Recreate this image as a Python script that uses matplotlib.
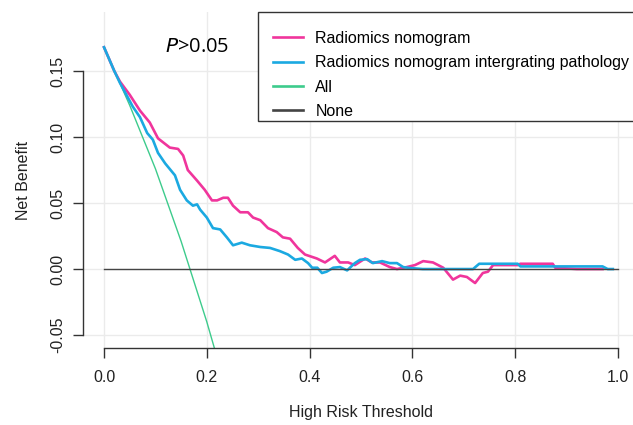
import matplotlib
import numpy as np

matplotlib.use("Agg")
import matplotlib.pyplot as plt
from matplotlib.patches import Rectangle

# values
thr_rad = [0.0, 0.02, 0.031, 0.05, 0.07, 0.089, 0.105, 0.128, 0.144, 0.154, 0.163, 0.181,
           0.196, 0.210, 0.220, 0.232, 0.241, 0.251, 0.265, 0.280, 0.290, 0.304, 0.319,
           0.336, 0.348, 0.362, 0.377, 0.391, 0.414, 0.430, 0.449, 0.459, 0.475, 0.488,
           0.508, 0.521, 0.537, 0.556, 0.570, 0.589, 0.605, 0.621, 0.640, 0.660, 0.679,
           0.693, 0.706, 0.722, 0.737, 0.747, 0.757, 0.805, 0.81, 0.873, 0.878, 0.92, 0.97]
nb_rad = [0.168, 0.150, 0.142, 0.132, 0.120, 0.111, 0.099, 0.092, 0.091, 0.086, 0.075, 0.067,
          0.060, 0.052, 0.052, 0.054, 0.054, 0.048, 0.043, 0.043, 0.039, 0.037, 0.031,
          0.028, 0.024, 0.023, 0.016, 0.011, 0.008, 0.005, 0.010, 0.005, 0.005, 0.003,
          0.008, 0.005, 0.005, 0.0015, 0.0, 0.0015, 0.003, 0.006, 0.005, 0.001, -0.008,
          -0.005, -0.006, -0.0106, -0.003, -0.002, 0.003, 0.003, 0.004, 0.004, 0.001, 0.0, 0.0]

thr_path = [0.0, 0.02, 0.031, 0.056, 0.07, 0.084, 0.095, 0.105, 0.119, 0.138, 0.148, 0.161,
            0.173, 0.181, 0.187, 0.200, 0.212, 0.226, 0.239, 0.251, 0.268, 0.284, 0.304,
            0.323, 0.342, 0.358, 0.372, 0.385, 0.397, 0.405, 0.415, 0.424, 0.433, 0.446,
            0.459, 0.473, 0.488, 0.498, 0.512, 0.523, 0.541, 0.556, 0.570, 0.582, 0.595,
            0.62, 0.718, 0.730, 0.805, 0.81, 0.97, 0.98, 0.99]
nb_path = [0.168, 0.150, 0.141, 0.123, 0.115, 0.103, 0.098, 0.088, 0.080, 0.071, 0.060, 0.052,
           0.048, 0.049, 0.045, 0.039, 0.031, 0.030, 0.024, 0.018, 0.020, 0.018, 0.0167,
           0.016, 0.0136, 0.011, 0.007, 0.008, 0.0045, 0.001, 0.001, -0.003, -0.002, 0.001,
           0.0015, -0.001, 0.0045, 0.007, 0.0075, 0.0045, 0.006, 0.0045, 0.0045, 0.0015, 0.0008,
           0.0, 0.0, 0.004, 0.004, 0.002, 0.002, 0.0, 0.0]

thr_all = [0.0, 0.05, 0.10, 0.15, 0.20, 0.22]
nb_all = [0.168, 0.124, 0.076, 0.021, -0.040, -0.067]

thr_none = [0.0, 1.0]
nb_none = [0.0, 0.0]

labels = ["Radiomics nomogram", "Radiomics nomogram intergrating pathology", "All", "None"]
colors = ["#F0359C", "#1BA9E1", "#3DCB8C", "#444444"]
x_ticks = [0.0, 0.2, 0.4, 0.6, 0.8, 1.0]
y_ticks = [-0.05, 0.0, 0.05, 0.10, 0.15]

plt.rcParams["font.family"] = ["Liberation Sans", "DejaVu Sans"]

W, H = 633, 425
fig = plt.figure(figsize=(W / 100, H / 100), dpi=100)
ax = fig.add_axes([83 / W, (H - 348) / H, (639 - 83) / W, (348 - 12) / H])
ax.set_xlim(-0.0409, 1.0409)
ax.set_ylim(-0.0598, 0.1947)

ax.set_xticks(x_ticks)
ax.set_yticks(y_ticks)
ax.grid(True, color="#EBEBEB", linewidth=1.0)
ax.set_axisbelow(True)

ax.plot(thr_all, nb_all, color=colors[2], linewidth=1.0, label=labels[2])
ax.plot(thr_rad, nb_rad, color=colors[0], linewidth=1.9, label=labels[0])
ax.plot(thr_path, nb_path, color=colors[1], linewidth=1.9, label=labels[1])
ax.plot(thr_none, nb_none, color=colors[3], linewidth=1.0, label=labels[3])

for side in ["top", "right"]:
    ax.spines[side].set_visible(False)
ax.spines["left"].set_bounds(-0.05, 0.15)
ax.spines["bottom"].set_bounds(0.0, 1.0)
for side in ["left", "bottom"]:
    ax.spines[side].set_color("#333333")
    ax.spines[side].set_linewidth(1.0)

ax.set_xticklabels([f"{v:.1f}" for v in x_ticks])
ax.set_yticklabels([f"{v:.2f}" for v in y_ticks])
ax.tick_params(axis="both", direction="out", length=7, width=1.0, color="#333333",
               labelsize=11.5, labelcolor="#222222")
ax.tick_params(axis="x", pad=8.5)
ax.tick_params(axis="y", pad=6)
for lab in ax.get_yticklabels():
    lab.set_rotation(90)
    lab.set_va("center")

ax.set_xlabel("High Risk Threshold", fontsize=11.5, labelpad=15, color="#222222")
ax.set_ylabel("Net Benefit", fontsize=11.5, labelpad=14, color="#222222")

ax.text(0.181, 0.168, "$\\it{P}$>0.05", fontsize=14.5, ha="center", va="center",
        family=["Open Sans", "DejaVu Sans"])

# legend box drawn by hand so it sits like the R legend
fig.patches.append(Rectangle((258 / W, 1 - 121 / H), (641 - 258) / W, (121 - 12) / H,
                             transform=fig.transFigure, facecolor="white",
                             edgecolor="#333333", linewidth=1.0, zorder=5))
handles, labs = ax.get_legend_handles_labels()
order = [labs.index(l) for l in labels]
leg = fig.legend([handles[i] for i in order], [labs[i] for i in order],
                 loc="upper left", bbox_to_anchor=(273 / W, 1 - 31 / H),
                 bbox_transform=fig.transFigure, borderaxespad=0.0, borderpad=0.0,
                 fontsize=11.5, frameon=False, handlelength=1.9, handletextpad=0.75,
                 labelspacing=0.58)
leg.set_zorder(6)
for line in leg.get_lines():
    line.set_linewidth(1.9)

fig.savefig("out.png", dpi=100)
